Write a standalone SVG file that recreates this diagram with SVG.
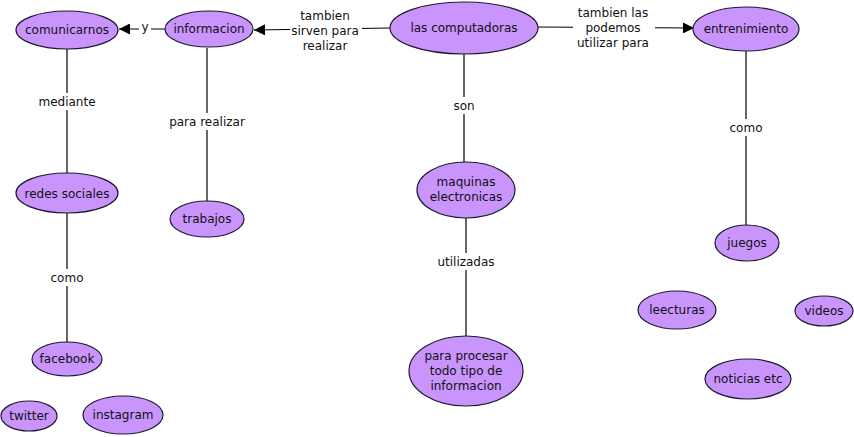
<svg xmlns="http://www.w3.org/2000/svg" width="854" height="437" viewBox="0 0 854 437">
<style>
.n ellipse{fill:#c994fb;stroke:#1a1a2e;stroke-width:1.2}
text{font-family:"DejaVu Sans",Verdana,sans-serif;font-size:12px;fill:#111;text-anchor:middle}
.c line{stroke:#000;stroke-width:1.2}
.lb{fill:#fff}
</style>
<defs>
<marker id="ah" viewBox="0 0 10 10" refX="10" refY="5" markerWidth="12" markerHeight="11" markerUnits="userSpaceOnUse" orient="auto">
<path d="M0,0 L10,5 L0,10 z" fill="#000"/>
</marker>
</defs>
<rect width="854" height="437" fill="#fff"/>
<g id="connectors" class="c">
<line x1="165" y1="29" x2="119" y2="29" marker-end="url(#ah)"/>
<line x1="390" y1="28" x2="254" y2="30" marker-end="url(#ah)"/>
<line x1="538" y1="27" x2="694" y2="28" marker-end="url(#ah)"/>
<line x1="67" y1="49" x2="67" y2="173"/>
<line x1="207" y1="48" x2="207" y2="201"/>
<line x1="464" y1="54" x2="464" y2="162"/>
<line x1="746" y1="50" x2="746" y2="225"/>
<line x1="67" y1="213" x2="67" y2="342"/>
<line x1="466" y1="217" x2="466" y2="336"/>
<rect class="lb" x="139" y="19" width="12" height="16"/>
<text x="145" y="31">y</text>
<rect class="lb" x="290" y="5" width="72" height="47"/>
<text x="325" y="20">tambien</text>
<text x="325" y="35">sirven para</text>
<text x="325" y="50">realizar</text>
<rect class="lb" x="573" y="3" width="82" height="47"/>
<text x="613" y="17">tambien las</text>
<text x="613" y="32">podemos</text>
<text x="613" y="47">utilizar para</text>
<rect class="lb" x="37" y="93" width="60" height="17"/>
<text x="67" y="106">mediante</text>
<rect class="lb" x="165" y="113" width="84" height="17"/>
<text x="207" y="126">para realizar</text>
<rect class="lb" x="450" y="97" width="28" height="17"/>
<text x="464" y="110">son</text>
<rect class="lb" x="728" y="119" width="36" height="17"/>
<text x="746" y="132">como</text>
<rect class="lb" x="49" y="269" width="36" height="17"/>
<text x="67" y="282">como</text>
<rect class="lb" x="435" y="253" width="62" height="17"/>
<text x="466" y="266">utilizadas</text>
</g>
<g id="comunicarnos" class="n"><ellipse cx="67" cy="30" rx="51" ry="19"/><text x="67" y="34">comunicarnos</text></g>
<g id="informacion" class="n"><ellipse cx="209" cy="29" rx="44" ry="18"/><text x="209" y="33">informacion</text></g>
<g id="las-computadoras" class="n"><ellipse cx="464" cy="28" rx="74" ry="26"/><text x="464" y="32">las computadoras</text></g>
<g id="entrenimiento" class="n"><ellipse cx="746" cy="29" rx="53" ry="22"/><text x="746" y="33">entrenimiento</text></g>
<g id="redes-sociales" class="n"><ellipse cx="67" cy="193" rx="51" ry="20"/><text x="67" y="198">redes sociales</text></g>
<g id="trabajos" class="n"><ellipse cx="207" cy="219" rx="37" ry="18"/><text x="207" y="223">trabajos</text></g>
<g id="maquinas-electronicas" class="n"><ellipse cx="466" cy="190" rx="49" ry="28"/><text x="466" y="186">maquinas</text><text x="466" y="201">electronicas</text></g>
<g id="para-procesar" class="n"><ellipse cx="466" cy="371" rx="57" ry="35"/><text x="466" y="360">para procesar</text><text x="466" y="375">todo tipo de</text><text x="466" y="390">informacion</text></g>
<g id="juegos" class="n"><ellipse cx="747" cy="243" rx="32" ry="18"/><text x="747" y="247">juegos</text></g>
<g id="facebook" class="n"><ellipse cx="67" cy="359" rx="35" ry="17"/><text x="67" y="363">facebook</text></g>
<g id="twitter" class="n"><ellipse cx="29" cy="416" rx="28" ry="15"/><text x="29" y="420">twitter</text></g>
<g id="instagram" class="n"><ellipse cx="123" cy="415" rx="40" ry="19"/><text x="123" y="419">instagram</text></g>
<g id="leecturas" class="n"><ellipse cx="677" cy="310" rx="39" ry="19"/><text x="677" y="314">leecturas</text></g>
<g id="videos" class="n"><ellipse cx="824" cy="311" rx="29" ry="15"/><text x="824" y="315">videos</text></g>
<g id="noticias-etc" class="n"><ellipse cx="748" cy="379" rx="43" ry="20"/><text x="748" y="383">noticias etc</text></g>
</svg>
